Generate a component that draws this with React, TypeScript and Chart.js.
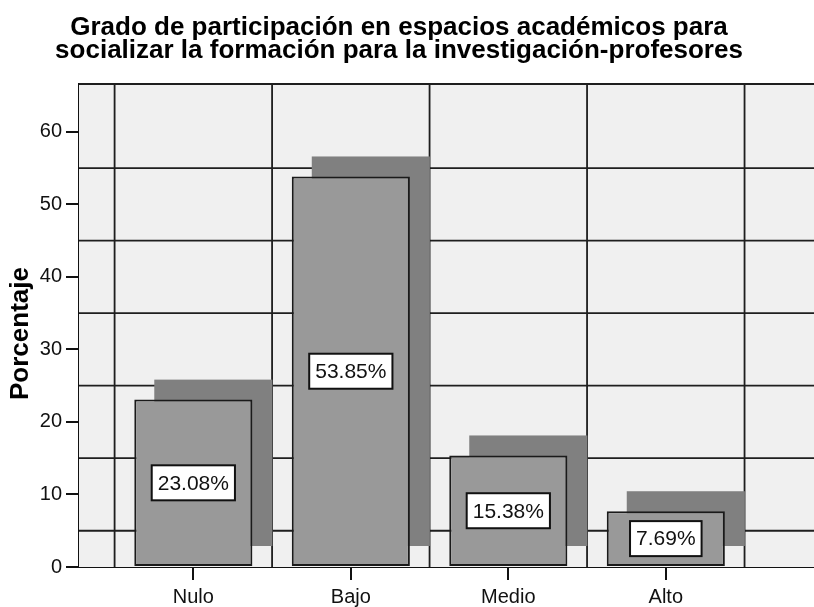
import React, { useEffect, useRef } from 'react';
import { Chart, registerables } from 'chart.js';

Chart.register(...registerables);

const categories = ['Nulo', 'Bajo', 'Medio', 'Alto'];
const percentages = [23.08, 53.85, 15.38, 7.69];
const valueLabels = ['23.08%', '53.85%', '15.38%', '7.69%'];
const yTicks = [0, 10, 20, 30, 40, 50, 60];
const yGridValues = [5, 15, 25, 35, 45, 55];
const xGridValues = [-0.5, 0.5, 1.5, 2.5, 3.5];
const titleLines = [
  'Grado de participación en espacios académicos para',
  'socializar la formación para la investigación-profesores',
];
const yAxisTitle = 'Porcentaje';

const FONT = "'Liberation Sans', Arial, sans-serif";
const DEPTH = 20;

const decorPlugin = {
  id: 'spssDecor',
  beforeDatasetsDraw(chart: any) {
    const { ctx, chartArea } = chart;
    const xs = chart.scales.x;
    const ys = chart.scales.y;
    ctx.save();
    ctx.fillStyle = '#f0f0f0';
    ctx.fillRect(chartArea.left, chartArea.top, chartArea.right - chartArea.left, chartArea.bottom - chartArea.top);
    ctx.strokeStyle = '#1e1e1e';
    ctx.lineWidth = 1.8;
    ctx.beginPath();
    for (const v of yGridValues) {
      const y = ys.getPixelForValue(v);
      ctx.moveTo(chartArea.left, y);
      ctx.lineTo(chartArea.right, y);
    }
    ctx.moveTo(chartArea.left, chartArea.top);
    ctx.lineTo(chartArea.right, chartArea.top);
    for (const v of xGridValues) {
      const x = xs.getPixelForValue(v);
      ctx.moveTo(x, chartArea.top);
      ctx.lineTo(x, chartArea.bottom);
    }
    ctx.stroke();
    // 3D shadows
    const meta = chart.getDatasetMeta(0);
    ctx.fillStyle = '#808080';
    for (const el of meta.data) {
      const p = el.getProps(['x', 'y', 'base', 'width'], true);
      ctx.fillRect(p.x - p.width / 2 + DEPTH, p.y - DEPTH, p.width, p.base - p.y);
    }
    ctx.restore();
  },
  afterDatasetsDraw(chart: any) {
    const { ctx } = chart;
    const meta = chart.getDatasetMeta(0);
    ctx.save();
    ctx.font = `21px ${FONT}`;
    ctx.textAlign = 'center';
    ctx.textBaseline = 'middle';
    meta.data.forEach((el: any, i: number) => {
      const p = el.getProps(['x', 'y', 'base'], true);
      const cy = (p.y + p.base) / 2;
      const text = valueLabels[i];
      const w = ctx.measureText(text).width + 12;
      const h = 35;
      ctx.fillStyle = '#ffffff';
      ctx.fillRect(p.x - w / 2, cy - h / 2, w, h);
      ctx.strokeStyle = '#111111';
      ctx.lineWidth = 2;
      ctx.strokeRect(p.x - w / 2, cy - h / 2, w, h);
      ctx.fillStyle = '#111111';
      ctx.fillText(text, p.x, cy + 1);
    });
    ctx.restore();
  },
  afterDraw(chart: any) {
    const { ctx } = chart;
    ctx.save();
    ctx.fillStyle = '#000000';
    ctx.font = `bold 26px ${FONT}`;
    ctx.textAlign = 'center';
    ctx.textBaseline = 'alphabetic';
    ctx.fillText(titleLines[0], 399, 35);
    ctx.fillText(titleLines[1], 399, 58);
    const ys = chart.scales.y;
    ctx.translate(21, (ys.top + ys.bottom) / 2 + 8);
    ctx.rotate(-Math.PI / 2);
    ctx.textBaseline = 'middle';
    ctx.fillText(yAxisTitle, 0, 0);
    ctx.restore();
  },
};

export default function App() {
  const canvasRef = useRef<HTMLCanvasElement | null>(null);

  useEffect(() => {
    if (!canvasRef.current) return;
    const chart = new Chart(canvasRef.current, {
      type: 'bar',
      data: {
        datasets: [
          {
            data: percentages.map((v, i) => ({ x: i, y: v })),
            backgroundColor: '#999999',
            borderColor: '#1a1a1a',
            borderWidth: 2,
            borderSkipped: false,
            barPercentage: 0.75,
            categoryPercentage: 1,
          },
        ],
      },
      options: {
        responsive: false,
        animation: false,
        layout: { padding: { top: 84, left: 0, right: 0, bottom: 0 } },
        plugins: {
          legend: { display: false },
          tooltip: { enabled: false },
          title: { display: false },
        },
        scales: {
          x: {
            type: 'linear',
            offset: false,
            min: -0.726,
            max: 3.941,
            afterBuildTicks: (s: any) => {
              s.ticks = categories.map((_, i) => ({ value: i }));
            },
            afterFit: (s: any) => {
              s.height = 40;
            },
            grid: { offset: false, drawOnChartArea: false, drawTicks: true, tickLength: 13, color: '#111111', lineWidth: 2 },
            border: { display: true, color: '#111111', width: 2 },
            ticks: {
              autoSkip: false,
              maxRotation: 0,
              padding: 5,
              color: '#111111',
              font: { family: FONT, size: 20 },
              callback: (v: any) => categories[v] ?? '',
            },
          },
          y: {
            type: 'linear',
            min: 0,
            max: 66.6,
            afterBuildTicks: (s: any) => {
              s.ticks = yTicks.map((v) => ({ value: v }));
            },
            afterFit: (s: any) => {
              s.width = 79;
            },
            grid: { drawOnChartArea: false, drawTicks: true, tickLength: 13, color: '#111111', lineWidth: 2 },
            border: { display: true, color: '#111111', width: 2 },
            ticks: {
              padding: 4,
              color: '#111111',
              font: { family: FONT, size: 20 },
            },
          },
        },
      },
      plugins: [decorPlugin],
    } as any);
    return () => chart.destroy();
  }, []);

  return (
    <div style={{ position: 'absolute', left: 0, top: 0, width: 814, height: 607, background: '#ffffff' }}>
      <canvas ref={canvasRef} width={814} height={607} style={{ width: 814, height: 607, display: 'block' }} />
    </div>
  );
}
